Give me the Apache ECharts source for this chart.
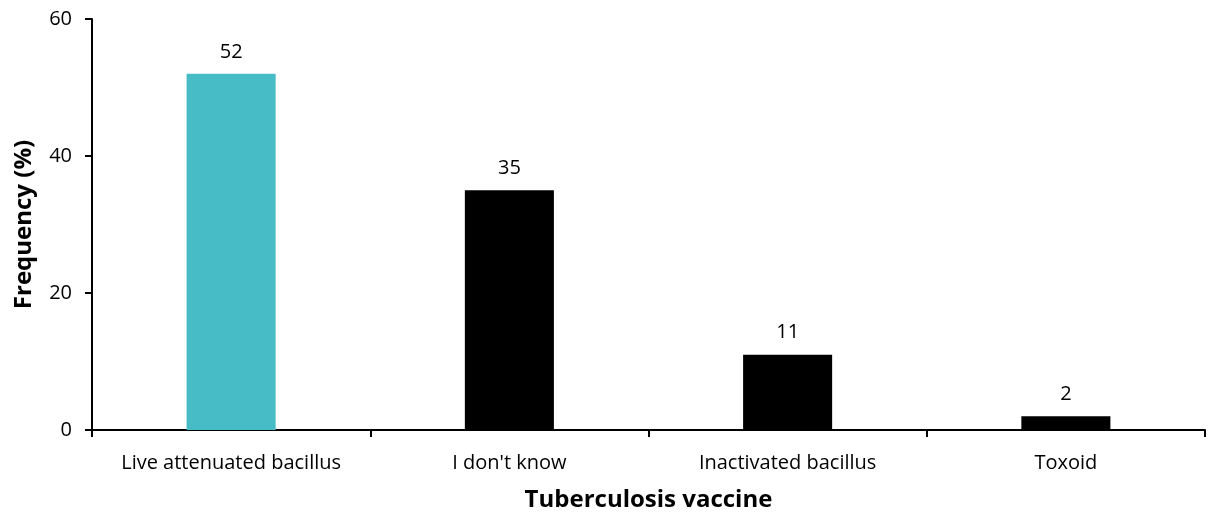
<!DOCTYPE html>
<html><head><meta charset="utf-8">
<script src="https://cdn.jsdelivr.net/npm/echarts@6/dist/echarts.min.js"></script>
<style>html,body{margin:0;padding:0;background:#fff}#c{width:1211px;height:517px}</style>
</head><body><div id="c"></div>
<script>
const categories = ["Live attenuated bacillus", "I don't know", "Inactivated bacillus", "Toxoid"];
const values = [52, 35, 11, 2];
const barColors = ["#48BCC6", "#000000", "#000000", "#000000"];
const yTicks = [0, 20, 40, 60];

const chart = echarts.init(document.getElementById('c'), null, {renderer: 'canvas'});
const font = "'Open Sans', 'Noto Sans', sans-serif";
chart.setOption({
  animation: false,
  grid: {left: 92, top: 19, right: 6, bottom: 83, containLabel: false},
  xAxis: {
    type: 'category', data: categories,
    name: 'Tuberculosis vaccine', nameLocation: 'middle', nameGap: 58,
    nameTextStyle: {fontFamily: font, fontSize: 24, fontWeight: 'bold', color: '#000'},
    axisLine: {lineStyle: {color: '#000', width: 2}},
    axisTick: {show: true, interval: 0, alignWithLabel: false, length: 7, lineStyle: {color: '#000', width: 2}},
    axisLabel: {interval: 0, hideOverlap: false, fontFamily: font, fontSize: 20, color: '#000', margin: 23}
  },
  yAxis: {
    type: 'value', min: yTicks[0], max: yTicks[yTicks.length - 1], interval: 20,
    name: 'Frequency (%)', nameLocation: 'middle', nameGap: 56,
    nameTextStyle: {fontFamily: font, fontSize: 24, fontWeight: 'bold', color: '#000'},
    axisLine: {show: true, lineStyle: {color: '#000', width: 2}},
    axisTick: {show: true, length: 7, lineStyle: {color: '#000', width: 2}},
    axisLabel: {fontFamily: font, fontSize: 20, color: '#000', margin: 20},
    splitLine: {show: false}
  },
  series: [{
    type: 'bar', barWidth: '32%',
    data: values.map((v, i) => ({value: v, itemStyle: {color: barColors[i]}})),
    label: {show: true, position: 'top', distance: 12, fontFamily: font, fontSize: 20, color: '#000'}
  }]
});
</script></body></html>
